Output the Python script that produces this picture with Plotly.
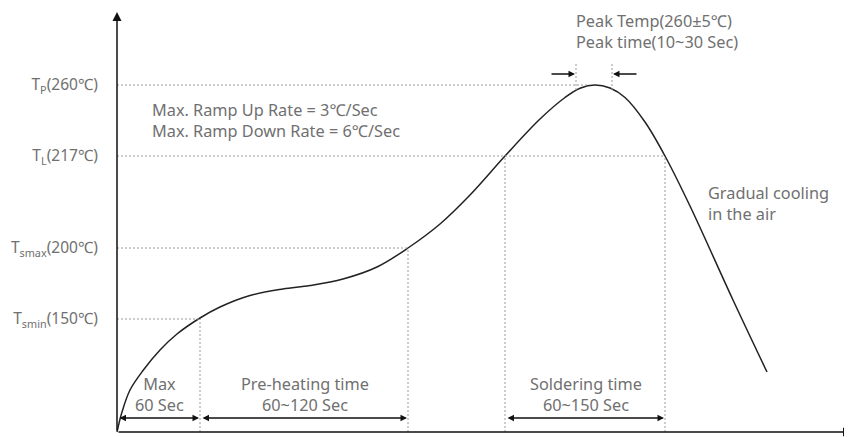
import plotly.graph_objects as go

# Schematic reflow profile (arbitrary schematic units: time to the right, temperature level up)
curve_t = [0, 5, 13, 26, 43, 60, 83, 103, 133, 166, 193, 226, 260, 291, 323, 353, 388,
           423, 448, 463, 478, 493, 508, 528, 548, 573, 616, 650]
curve_T = [0, 20, 42, 61.5, 82, 98, 114, 125, 136.5, 143, 146.5, 153, 165, 184, 208, 237, 276,
           313, 334.5, 343.8, 347, 344, 334.5, 310, 276, 226, 132, 60]

level_vals = [347, 276, 184, 113]
level_labels = ["T<sub>P</sub>(260℃)", "T<sub>L</sub>(217℃)",
                "T<sub>smax</sub>(200℃)", "T<sub>smin</sub>(150℃)"]
level_ends = [470, 548, 291, 83]

time_marks = [83, 291, 388, 548]          # vertical guide positions
time_mark_tops = [113, 184, 276, 276]
peak_marks = [459, 495]

spans = [(0, 83), (83, 291), (388, 548)]
span_labels = ["Max<br>60 Sec", "Pre-heating time<br>60~120 Sec", "Soldering time<br>60~150 Sec"]

FONT = "Noto Sans, Noto Sans CJK KR, sans-serif"
TXT = "#707070"
GUIDE = "#9a9a9a"
FS = 16.3

fig = go.Figure()
fig.add_trace(go.Scatter(x=curve_t, y=curve_T, mode="lines",
                         line=dict(color="#222222", width=1.5, shape="spline", smoothing=1.0),
                         hoverinfo="skip", showlegend=False))

shapes = []
for v, e in zip(level_vals, level_ends):
    shapes.append(dict(type="line", xref="x", yref="y", x0=0, x1=e, y0=v, y1=v,
                       line=dict(color=GUIDE, width=1, dash="2px,2px")))
for t, top in zip(time_marks, time_mark_tops):
    shapes.append(dict(type="line", xref="x", yref="y", x0=t, x1=t, y0=0, y1=top,
                       line=dict(color=GUIDE, width=1, dash="2px,2px")))
for t in peak_marks:
    shapes.append(dict(type="line", xref="x", yref="y", x0=t, x1=t, y0=342, y1=369,
                       line=dict(color=GUIDE, width=1, dash="2px,2px")))

anns = []
# axes
anns.append(dict(x=0, y=420, ax=0, ay=0, xref="x", yref="y", axref="x", ayref="y",
                 text="", showarrow=True, arrowhead=2, arrowsize=1.2, arrowwidth=1.5,
                 arrowcolor="#111111", standoff=0))
anns.append(dict(x=735, y=0, ax=0, ay=0, xref="x", yref="y", axref="x", ayref="y",
                 text="", showarrow=True, arrowhead=2, arrowsize=1.2, arrowwidth=1.5,
                 arrowcolor="#111111", standoff=0))
# span arrows and labels
for (a, b), lab in zip(spans, span_labels):
    anns.append(dict(x=b, y=14, ax=a, ay=14, xref="x", yref="y", axref="x", ayref="y",
                     text="", showarrow=True, arrowhead=2, startarrowhead=2,
                     arrowside="end+start", arrowsize=1, startarrowsize=1, arrowwidth=1.3,
                     arrowcolor="#111111", standoff=1, startstandoff=1))
    anns.append(dict(x=(a + b) / 2 + 1, y=38, xref="x", yref="y", text=lab, showarrow=False,
                     font=dict(family=FONT, size=FS, color=TXT), align="center",
                     xanchor="center", yanchor="middle"))
# peak arrows
anns.append(dict(x=peak_marks[0], y=358, ax=433, ay=358, xref="x", yref="y", axref="x", ayref="y",
                 text="", showarrow=True, arrowhead=2, arrowsize=1, arrowwidth=1.3,
                 arrowcolor="#111111", standoff=1))
anns.append(dict(x=peak_marks[1], y=358, ax=521, ay=358, xref="x", yref="y", axref="x", ayref="y",
                 text="", showarrow=True, arrowhead=2, arrowsize=1, arrowwidth=1.3,
                 arrowcolor="#111111", standoff=1))
# text notes
anns.append(dict(x=457, y=401, xref="x", yref="y", text="Peak Temp(260±5℃)<br>Peak time(10~30 Sec)",
                 showarrow=False, align="left", xanchor="left", yanchor="middle",
                 font=dict(family=FONT, size=FS, color=TXT)))
anns.append(dict(x=33, y=312, xref="x", yref="y",
                 text="Max. Ramp Up Rate = 3℃/Sec<br>Max. Ramp Down Rate = 6℃/Sec",
                 showarrow=False, align="left", xanchor="left", yanchor="middle",
                 font=dict(family=FONT, size=FS, color=TXT)))
anns.append(dict(x=589, y=229, xref="x", yref="y", text="Gradual cooling<br>in the air",
                 showarrow=False, align="left", xanchor="left", yanchor="middle",
                 font=dict(family=FONT, size=FS, color=TXT)))

# the page body adds an 8px offset; the figure is sized to fill the rest of the window
fig.update_layout(
    width=844, height=429,
    margin=dict(l=107, r=0, t=0, b=3, autoexpand=False),
    paper_bgcolor="white", plot_bgcolor="white",
    shapes=shapes, annotations=anns,
    xaxis=dict(range=[-2, 735], showgrid=False, zeroline=False, showline=False,
               showticklabels=False, ticks="", fixedrange=True, automargin=False),
    yaxis=dict(range=[-2, 424], showgrid=False, zeroline=False, showline=False,
               tickvals=level_vals, ticktext=level_labels, ticks="",
               tickfont=dict(family=FONT, size=15.5, color=TXT),
               ticklabelstandoff=16, fixedrange=True, automargin=False),
)

fig.write_html("out.html")
